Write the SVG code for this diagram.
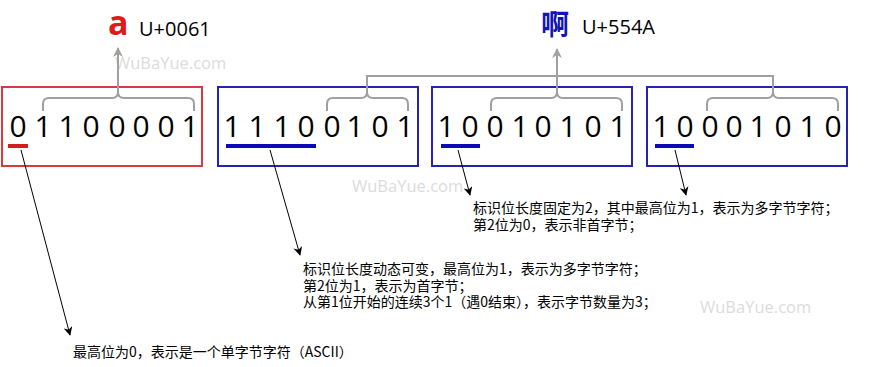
<svg xmlns="http://www.w3.org/2000/svg" width="872" height="367" viewBox="0 0 872 367">
<style>
.bg{fill:#fff}
.box{fill:none;stroke-width:2}
.red{stroke:#d93a40}
.blue{stroke:#2424ae}
.dig{font-family:"Open Sans","Noto Sans",sans-serif;font-size:30px;fill:#000;text-anchor:middle}
.ul{stroke-width:4;fill:none}
.brace{fill:none;stroke:#a0a0a0;stroke-width:2}
.gl{fill:none;stroke:#a0a0a0;stroke-width:2}
.bl{fill:none;stroke:#000;stroke-width:1}
.note{font-family:"Noto Sans CJK SC","Noto Sans",sans-serif;font-size:14px;fill:#000}
.code{font-family:"Open Sans","Noto Sans",sans-serif;font-size:20px;fill:#000}
.wm{font-family:"Open Sans","Noto Sans",sans-serif;font-size:16.5px;fill:#dcdcdc}
</style>
<defs>
<marker id="ga" viewBox="0 0 10 10" refX="9" refY="5" markerWidth="10" markerHeight="10" markerUnits="userSpaceOnUse" orient="auto">
<path d="M0,0 L10,5 L0,10 L3,5 Z" fill="#a0a0a0"/>
</marker>
<marker id="ba" viewBox="0 0 10 10" refX="9" refY="5" markerWidth="9" markerHeight="9" markerUnits="userSpaceOnUse" orient="auto">
<path d="M0,0 L10,5 L0,10 L3,5 Z" fill="#000"/>
</marker>
</defs>
<rect class="bg" width="872" height="367"/>

<g id="watermarks">
<text class="wm" x="115" y="69">WuBaYue.com</text>
<text class="wm" x="352" y="192">WuBaYue.com</text>
<text class="wm" x="700" y="313">WuBaYue.com</text>
</g>

<g id="char-a">
<text x="108" y="35" font-family="'Open Sans','Noto Sans',sans-serif" font-weight="bold" font-size="34" fill="#e01a1a">a</text>
<text class="code" x="139" y="36">U+0061</text>
</g>
<g id="char-a2">
<text x="541" y="35" font-family="'Noto Sans CJK SC',sans-serif" font-weight="bold" font-size="28" fill="#1414b4">啊</text>
<text class="code" x="582" y="34">U+554A</text>
</g>

<g id="byte1">
<rect class="box red" x="2" y="87" width="200" height="79"/>
<text class="dig" x="18 43 67 91 117 141 166 190" y="137">01100001</text>
<line class="ul" x1="8" y1="146" x2="28" y2="146" stroke="#d41c1c"/>
</g>
<g id="byte2">
<rect class="box blue" x="218" y="87" width="200" height="79"/>
<text class="dig" x="232 257 282 306 332 355 380 405" y="137">11100101</text>
<line class="ul" x1="226" y1="146" x2="316" y2="146" stroke="#0a0ab8"/>
</g>
<g id="byte3">
<rect class="box blue" x="432" y="87" width="200" height="79"/>
<text class="dig" x="446 470 495 520 543 568 593 618" y="137">10010101</text>
<line class="ul" x1="441" y1="146" x2="480" y2="146" stroke="#0a0ab8"/>
</g>
<g id="byte4">
<rect class="box blue" x="647" y="87" width="200" height="79"/>
<text class="dig" x="661 685 710 734 758 783 808 833" y="137">10001010</text>
<line class="ul" x1="655" y1="146" x2="694" y2="146" stroke="#0a0ab8"/>
</g>

<g id="notes">
<text class="note" x="473" y="213"><tspan x="473" y="213">标识位长度固定为2，其中最高位为1，表示为多字节字符；</tspan><tspan x="473" y="230">第2位为0，表示非首字节；</tspan></text>
<text class="note" x="303" y="274"><tspan x="303" y="274">标识位长度动态可变，最高位为1，表示为多字节字符；</tspan><tspan x="303" y="291">第2位为1，表示为首字节；</tspan><tspan x="303" y="307">从第1位开始的连续3个1（遇0结束），表示字节数量为3；</tspan></text>
<text class="note" x="73" y="357">最高位为0，表示是一个单字节字符（ASCII）</text>
</g>

<g id="connectors">
<path class="brace" d="M43,111 V104 Q43,98 49,98 H112 Q118,98 118,92 Q118,98 124,98 H188 Q194,98 194,104 V111"/>
<line class="gl" x1="118" y1="92" x2="118" y2="48" marker-end="url(#ga)"/>
<path class="brace" d="M327,111 V104 Q327,98 333,98 H361 Q367,98 367,92 Q367,98 373,98 H402 Q408,98 408,104 V111"/>
<path class="brace" d="M491,111 V104 Q491,98 497,98 H551 Q557,98 557,92 Q557,98 563,98 H616 Q622,98 622,104 V111"/>
<path class="brace" d="M707,111 V104 Q707,98 713,98 H767 Q773,98 773,92 Q773,98 779,98 H832 Q838,98 838,104 V111"/>
<path class="gl" d="M367,92 V76 H773 V92"/>
<line class="gl" x1="557" y1="92" x2="557" y2="49" marker-end="url(#ga)"/>
<line class="bl" x1="21" y1="150" x2="70" y2="335" marker-end="url(#ba)"/>
<line class="bl" x1="270" y1="150" x2="300" y2="255" marker-end="url(#ba)"/>
<line class="bl" x1="458" y1="150" x2="470" y2="195" marker-end="url(#ba)"/>
<line class="bl" x1="675" y1="150" x2="686" y2="195" marker-end="url(#ba)"/>
</g>
</svg>
